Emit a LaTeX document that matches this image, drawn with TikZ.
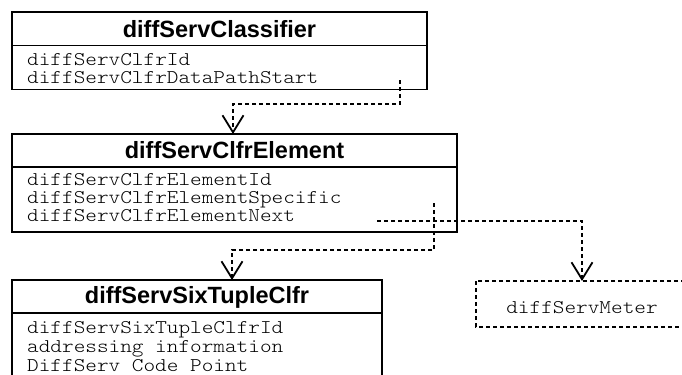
\documentclass[tikz,border=0pt]{standalone}
\usepackage{fontspec}
\setmainfont{Liberation Sans}
\newfontfamily\monof[FakeStretch=1.143]{Latin Modern Mono Light}
\usetikzlibrary{arrows.meta}
\tikzset{
  classbox/.style={draw=black, line width=1.8bp},
  divline/.style={draw=black, line width=1.6bp},
  titletext/.style={font=\fontsize{23.5bp}{26bp}\selectfont\bfseries, inner sep=0pt},
  attrtext/.style={font=\monof\fontsize{19.4bp}{20bp}\selectfont, inner sep=0pt, anchor=base west},
  depline/.style={draw=black, line width=1.6bp, dash pattern=on 4bp off 3bp,
    -{Straight Barb[length=17bp,width=21bp,line width=1.8bp]}},
  meterbox/.style={draw=black, line width=1.6bp, dash pattern=on 4bp off 3bp}
}
\begin{document}
\begin{tikzpicture}[x=1bp,y=-1bp]
\useasboundingbox (0,0) rectangle (682,374);
\clip (0,0) rectangle (682,374);
% box 1
\draw[classbox] (12,12) rectangle (427,89.5);
\draw[divline] (12,45.5) -- (427,45.5);
\node[titletext] (t1) at (219.5,29) {diffServClassifier};
\node[attrtext] (a11) at (27,65) {diffServClfrId};
\node[attrtext] (a12) at (27,83) {diffServClfrDataPathStart};
% box 2
\draw[classbox] (12,134) rectangle (457,232);
\coordinate (b2top) at (233,134);
\draw[divline] (12,167) -- (457,167);
\node[titletext] (t2) at (234.5,150.5) {diffServClfrElement};
\node[attrtext] (a21) at (27,185) {diffServClfrElementId};
\node[attrtext] (a22) at (27,203) {diffServClfrElementSpecific};
\node[attrtext] (a23) at (27,221) {diffServClfrElementNext};
% box 3
\draw[classbox] (12,280) rectangle (382,400);
\coordinate (b3top) at (232,280);
\draw[divline] (12,313) -- (382,313);
\node[titletext] (t3) at (197,297) {diffServSixTupleClfr};
\node[attrtext] (a31) at (27,333) {diffServSixTupleClfrId};
\node[attrtext] (a32) at (27,352) {addressing information};
\node[attrtext] (a33) at (27,371) {DiffServ Code Point};
% meter
\draw[meterbox] (476,281) rectangle (720,327);
\coordinate (mtop) at (582,281);
\node[attrtext, anchor=base] (m) at (582,313) {diffServMeter};
% connectors
\coordinate (s1) at (400,80);
\coordinate (s2) at (377,221);
\coordinate (s3) at (434,203);
\draw[depline] (s1) -- (400,104) -- (233,104) -- (b2top);
\draw[depline] (s2) -- (582,221) -- (mtop);
\draw[depline] (s3) -- (434,250) -- (232,250) -- (b3top);
\end{tikzpicture}
\end{document}
